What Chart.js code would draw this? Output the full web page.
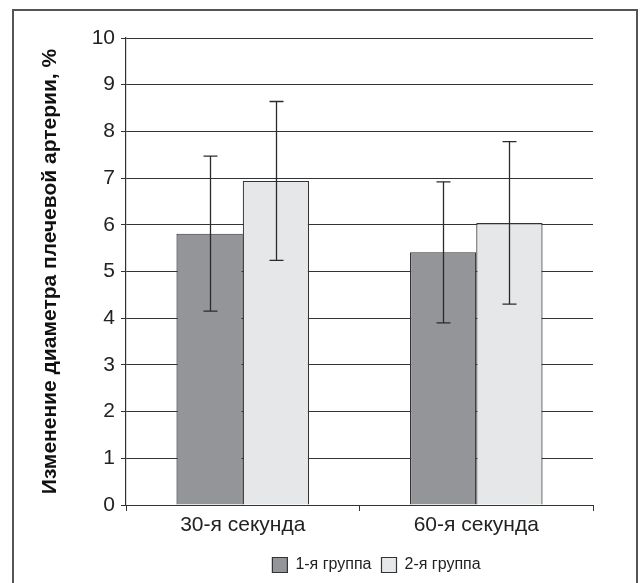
<!DOCTYPE html>
<html>
<head>
<meta charset="utf-8">
<script src="https://cdn.jsdelivr.net/npm/chart.js@4"></script>
<style>
  html, body { margin: 0; padding: 0; background: #fff; }
  #wrap { position: relative; width: 642px; height: 583px; overflow: hidden; }
  #frame { position: absolute; left: 12px; top: 9px; width: 626px; height: 600px; border: 2px solid #555; box-sizing: border-box; pointer-events: none; }
  canvas { position: absolute; left: 0; top: 0; }
</style>
</head>
<body>
<div id="wrap">
  <canvas id="c" width="642" height="583"></canvas>
  <div id="frame"></div>
</div>
<script>
const categories = ['30-я секунда', '60-я секунда'];
const seriesNames = ['1-я группа', '2-я группа'];
const group1 = [5.81, 5.41];
const group1Err = [1.66, 1.51];
const group2 = [6.94, 6.04];
const group2Err = [1.70, 1.74];
const yTicks = [0, 1, 2, 3, 4, 5, 6, 7, 8, 9, 10];
const yTitle = 'Изменение диаметра плечевой артерии, %';

const errorBars = {
  id: 'errorBars',
  afterDatasetsDraw(chart) {
    const ctx = chart.ctx;
    const y = chart.scales.y;
    chart.data.datasets.forEach((ds, di) => {
      const meta = chart.getDatasetMeta(di);
      meta.data.forEach((bar, i) => {
        const v = ds.data[i], e = ds.errors[i];
        const yTop = y.getPixelForValue(v + e);
        const yBot = y.getPixelForValue(v - e);
        const x = Math.round(bar.x) + 0.5;
        ctx.save();
        ctx.strokeStyle = '#2b2b2b';
        ctx.lineWidth = 1.3;
        ctx.beginPath();
        ctx.moveTo(x, yTop); ctx.lineTo(x, yBot);
        ctx.moveTo(x - 7, yTop); ctx.lineTo(x + 7, yTop);
        ctx.moveTo(x - 7, yBot); ctx.lineTo(x + 7, yBot);
        ctx.stroke();
        ctx.restore();
      });
    });
  }
};

// nudge the legend block to the right to match the reference placement
const legendShift = {
  id: 'legendShift',
  afterLayout(chart) {
    if (chart.legend) { chart.legend.left += 17; chart.legend.right += 17; }
  }
};

const FONT = 'Liberation Sans, Arial, sans-serif';

new Chart(document.getElementById('c'), {
  type: 'bar',
  data: {
    labels: categories,
    datasets: [
      { label: seriesNames[0], data: group1, errors: group1Err, backgroundColor: '#939598', borderColor: '#333', borderWidth: 1.2, categoryPercentage: 0.568, barPercentage: 1 },
      { label: seriesNames[1], data: group2, errors: group2Err, backgroundColor: '#e6e7e8', borderColor: '#333', borderWidth: 1.2, categoryPercentage: 0.568, barPercentage: 1 }
    ]
  },
  options: {
    responsive: false,
    animation: false,
    layout: { padding: { left: 14, right: 49, top: 38, bottom: 0 } },
    plugins: {
      legend: {
        position: 'bottom',
        fullSize: false,
        labels: {
          boxWidth: 15, boxHeight: 15, padding: 10,
          color: '#222',
          font: { family: FONT, size: 16 }
        }
      },
      tooltip: { enabled: false }
    },
    scales: {
      x: {
        grid: { drawOnChartArea: false, drawTicks: true, tickLength: 6, color: '#333', offset: true },
        border: { color: '#333', width: 1 },
        ticks: { color: '#222', font: { family: FONT, size: 21 }, padding: 2 },
        afterFit(s) { s.height = 42; }
      },
      y: {
        min: 0, max: 10,
        afterBuildTicks(s) { s.ticks = yTicks.map(v => ({ value: v })); },
        grid: { color: '#333', lineWidth: 1, tickLength: 5 },
        border: { color: '#333', width: 1.2 },
        ticks: { color: '#222', font: { family: FONT, size: 21 }, padding: 6 },
        title: {
          display: true, text: yTitle, color: '#111',
          font: { family: FONT, size: 21, weight: 'bold' },
          padding: { top: 24, bottom: 0 }
        },
        afterFit(s) { s.width = 112; }
      }
    }
  },
  plugins: [errorBars, legendShift]
});
</script>
</body>
</html>
